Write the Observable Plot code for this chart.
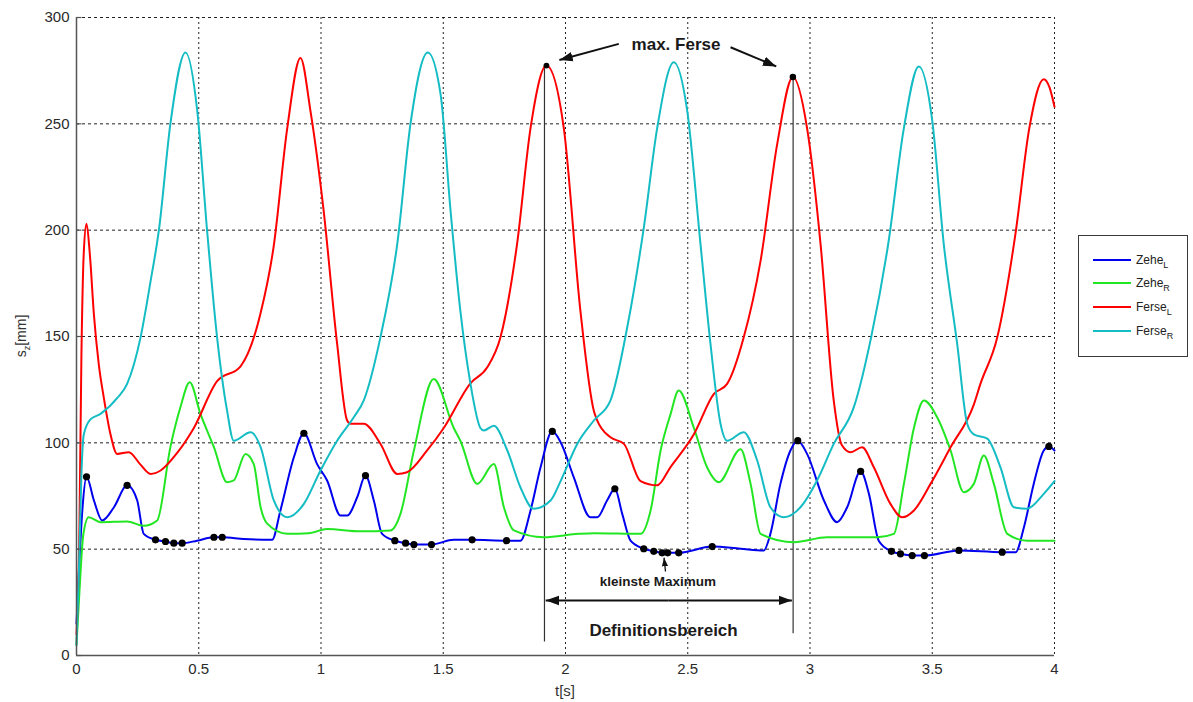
<!DOCTYPE html>
<html>
<head>
<meta charset="utf-8">
<script src="https://cdn.jsdelivr.net/npm/d3@7"></script>
<script src="https://cdn.jsdelivr.net/npm/@observablehq/plot@0.6"></script>
<style>
  body { margin: 0; background: #fff; font-family: "Liberation Sans", Arial, sans-serif; }
  #wrap { position: relative; width: 1193px; height: 702px; }
  #legend { position: absolute; left: 1078px; top: 235px; width: 108px; height: 120px;
            border: 1px solid #3a3a3a; background: #fff; font-size: 12px; color: #222; }
  .row { position: absolute; left: 0; height: 16px; line-height: 16px; }
  .sw { position: absolute; left: 14px; top: 7px; width: 38px; height: 2px; }
  .lab { position: absolute; left: 57px; top: 0; white-space: nowrap; }
  .lab sub { font-size: 9px; vertical-align: -4px; }
</style>
</head>
<body>
<div id="wrap"></div>
<script>
// ---- data ----
const xTicks = [0, 0.5, 1, 1.5, 2, 2.5, 3, 3.5, 4];
const yTicks = [0, 50, 100, 150, 200, 250, 300];
const seriesNames = ["Zehe", "Zehe", "Ferse", "Ferse"];
const seriesSubs = ["L", "R", "L", "R"];
const seriesColors = ["#0000ee", "#22e622", "#ff0000", "#14bcc4"];

// [t (s), s_z (mm)]
const zeheL = [[0,15],[0.01,40],[0.025,70],[0.041,84],[0.071,73],[0.105,63.5],[0.153,69.7],[0.207,80],[0.248,73],[0.275,57.2],[0.323,54.4],[0.364,53.6],[0.398,52.8],[0.432,52.8],[0.493,54],[0.562,55.6],[0.596,55.6],[0.684,54.8],[0.8,54.4],[0.834,68.2],[0.889,93.2],[0.93,104.5],[0.984,90],[1.025,82.3],[1.08,65.8],[1.107,65.8],[1.148,74.4],[1.182,84.6],[1.216,72.9],[1.25,57.2],[1.302,54],[1.346,52.8],[1.38,52.2],[1.452,52.2],[1.543,54.4],[1.618,54.4],[1.759,54],[1.816,54],[1.857,68.2],[1.898,88.5],[1.946,105.4],[1.98,100.3],[2.034,83.8],[2.102,65],[2.13,65],[2.17,72.9],[2.202,78.4],[2.232,66.6],[2.266,54],[2.32,50.2],[2.361,49],[2.395,48.3],[2.418,48.3],[2.463,48.3],[2.6,51.2],[2.716,50.2],[2.811,49.4],[2.838,57.2],[2.879,80.7],[2.92,96.4],[2.95,101],[2.988,94.8],[3.057,72.9],[3.111,62.7],[3.152,69.7],[3.207,86.6],[3.241,76],[3.281,54],[3.333,49],[3.37,47.8],[3.418,47],[3.468,47],[3.609,49.4],[3.786,48.6],[3.841,48.6],[3.875,60.3],[3.915,80.7],[3.956,96.4],[3.977,98.3],[4.0,96.4]];
const zeheR = [[0,5],[0.012,30],[0.028,57],[0.05,65],[0.098,62.7],[0.207,63],[0.275,61],[0.33,63.5],[0.384,98],[0.425,116.7],[0.463,128.5],[0.507,113.6],[0.562,98],[0.616,81.5],[0.643,82.3],[0.691,94.8],[0.725,90],[0.753,69.7],[0.78,62],[0.862,57.2],[0.95,57.5],[1.025,59.5],[1.162,58.4],[1.284,58.8],[1.325,66.6],[1.38,96.4],[1.461,130],[1.543,107],[1.57,101],[1.639,80.7],[1.707,90],[1.748,69.7],[1.789,58.8],[1.911,55.6],[2.054,57.2],[2.116,57.5],[2.307,57.2],[2.348,68.2],[2.389,96.4],[2.43,113.6],[2.463,124.6],[2.525,107],[2.579,88.5],[2.627,81.5],[2.716,97],[2.757,80.7],[2.798,57.2],[2.934,53.3],[3.07,55.6],[3.275,55.6],[3.343,57.2],[3.384,80.7],[3.425,107],[3.466,119.9],[3.52,112],[3.575,96.4],[3.629,76.8],[3.67,80.7],[3.711,94],[3.752,80.7],[3.807,57.2],[3.888,54],[4.0,54]];
const ferseL = [[0,10],[0.012,60],[0.02,140],[0.03,190],[0.041,203],[0.055,188],[0.071,160.6],[0.091,137],[0.112,121],[0.139,104],[0.166,94.8],[0.214,95.6],[0.26,90],[0.303,85.4],[0.344,87],[0.41,95],[0.48,107],[0.575,129],[0.671,136],[0.753,161],[0.806,192],[0.862,248],[0.916,281],[0.957,256],[1.011,209],[1.066,146.5],[1.107,110.5],[1.121,109],[1.175,109],[1.243,99.6],[1.312,85.4],[1.352,86.2],[1.434,96.4],[1.502,107],[1.611,128],[1.68,135.5],[1.734,149.6],[1.802,193.6],[1.857,248],[1.922,277.4],[1.993,248],[2.061,162],[2.116,115],[2.13,110.5],[2.184,102.6],[2.239,99.5],[2.307,82],[2.375,80],[2.429,88.5],[2.525,104],[2.607,123],[2.661,127.7],[2.729,149.6],[2.798,185.7],[2.866,240.6],[2.93,272],[2.988,248],[3.043,193.7],[3.097,120],[3.13,99],[3.166,95.6],[3.213,97.9],[3.261,88.5],[3.329,71.3],[3.377,65],[3.425,68.2],[3.493,80.7],[3.575,97.9],[3.67,118],[3.697,127.7],[3.766,149.6],[3.84,198],[3.897,248],[3.956,271],[3.98,267],[4.0,258]];
const ferseR = [[0,5],[0.01,40],[0.02,85],[0.03,104],[0.057,111],[0.098,113.6],[0.166,121],[0.207,127.7],[0.262,149.6],[0.303,176],[0.337,200],[0.384,250],[0.446,283.6],[0.494,256],[0.534,200],[0.575,149.6],[0.616,115],[0.643,101],[0.712,105],[0.753,98],[0.807,72.9],[0.862,65],[0.93,71.3],[0.998,87],[1.066,101],[1.134,112],[1.175,120],[1.243,149.6],[1.312,193.6],[1.366,250],[1.437,283.6],[1.489,264],[1.53,209],[1.57,162],[1.611,128],[1.652,107],[1.666,105.8],[1.707,108],[1.762,96.4],[1.816,79],[1.87,69],[1.939,72.9],[1.98,82],[2.048,99.5],[2.116,110.5],[2.184,120],[2.252,154],[2.32,201],[2.375,248],[2.443,279],[2.498,256],[2.552,193.6],[2.593,146.5],[2.634,109],[2.661,101],[2.729,105],[2.784,91.7],[2.838,69.7],[2.893,65],[2.961,69.7],[3.029,82.3],[3.097,99.5],[3.18,117],[3.25,149.6],[3.32,193.6],[3.384,248],[3.445,277],[3.5,251.5],[3.547,193.6],[3.602,146.5],[3.643,109],[3.67,104],[3.725,102],[3.779,88.5],[3.834,69.7],[3.888,69],[3.956,76],[4.0,82]];

// detected maxima of Zehe_L (black dots)
const zeheLMaxima = [[0.041,84],[0.207,80],[0.323,54.4],[0.364,53.6],[0.398,52.8],[0.432,52.8],[0.562,55.6],[0.596,55.6],[0.93,104.5],[1.182,84.6],[1.302,54],[1.346,52.8],[1.38,52.2],[1.452,52.2],[1.618,54.4],[1.759,54],[1.946,105.4],[2.202,78.4],[2.32,50.2],[2.361,49],[2.395,48.3],[2.418,48.3],[2.463,48.3],[2.6,51.2],[2.95,101],[3.207,86.6],[3.333,49],[3.37,47.8],[3.418,47],[3.468,47],[3.609,49.4],[3.786,48.6],[3.977,98.3]];
const ferseMaxima = [[1.922,277.4],[2.93,272]];
const bereichLines = [[1.914,277,6.3],[2.931,272,10.2]];
const bereichY = 25.9;
const annotations = [
  {text: "max. Ferse", t: 2.452, y: 287.5, size: 17},
  {text: "kleinste Maximum", t: 2.378, y: 34.5, size: 13.5},
  {text: "Definitionsbereich", t: 2.401, y: 11.8, size: 17}
];
const maxArrows = [[2.218,287.6,1.975,280],[2.675,286,2.862,277]];
const smallArrow = [[2.409,39.5,2.403,46]];

// ---- build ----
const seriesData = [zeheL, zeheR, ferseL, ferseR];
const ax = d => d[0], ay = d => d[1];

const chart = Plot.plot({
  width: 1193, height: 702,
  marginLeft: 76, marginRight: 139, marginTop: 17, marginBottom: 47,
  style: {fontFamily: '"Liberation Sans", Arial, sans-serif', fontSize: "15px", color: "#2a2a2a", background: "#fff"},
  x: {type: "linear", domain: [0, 4]},
  y: {type: "linear", domain: [0, 300]},
  marks: [
    Plot.ruleY(yTicks.filter(v => v > 0), {stroke: "#222", strokeWidth: 1, strokeDasharray: "3,3"}),
    Plot.ruleX(xTicks.filter(v => v > 0), {stroke: "#222", strokeWidth: 1, strokeDasharray: "2,3"}),
    Plot.ruleX(bereichLines, {x: d => d[0], y1: d => d[1], y2: d => d[2], stroke: "#333", strokeWidth: 1.2}),
    ...seriesData.map((s, i) => Plot.line(s, {x: ax, y: ay, stroke: seriesColors[i], strokeWidth: 2, curve: "monotone-x"})),
    Plot.dot(zeheLMaxima, {x: ax, y: ay, r: 3.6, fill: "#000"}),
    Plot.dot(ferseMaxima, {x: ax, y: ay, r: [4, 5], fill: "#000"}),
    Plot.ruleX([0], {stroke: "#555", strokeWidth: 1.5}),
    Plot.ruleY([0], {stroke: "#555", strokeWidth: 1.5}),
    Plot.ruleY(yTicks, {x1: 0, x2: 0.022, stroke: "#555", strokeWidth: 1.2}),
    Plot.link(maxArrows, {x1: d => d[0], y1: d => d[1], x2: d => d[2], y2: d => d[3], stroke: "#111", strokeWidth: 2, markerEnd: "arrow"}),
    Plot.link([[ (bereichLines[0][0]+bereichLines[1][0])/2, bereichLines[0][0]+0.005 ], [ (bereichLines[0][0]+bereichLines[1][0])/2, bereichLines[1][0]-0.005 ]],
      {x1: d => d[0], x2: d => d[1], y1: () => bereichY, y2: () => bereichY, stroke: "#111", strokeWidth: 2, markerEnd: "arrow"}),
    Plot.link(smallArrow, {x1: d => d[0], y1: d => d[1], x2: d => d[2], y2: d => d[3], stroke: "#111", strokeWidth: 1.3, markerEnd: "arrow"}),
    Plot.text(annotations, {x: "t", y: "y", text: "text", fontSize: d => d.size, fontWeight: "bold", fill: "#1a1a1a"}),
    Plot.axisX(xTicks, {tickSize: 0, tickPadding: 8, tickFormat: d => String(d), label: null, fill: "#2a2a2a"}),
    Plot.axisY(yTicks, {tickSize: 0, tickPadding: 7, label: null, fill: "#2a2a2a"})
  ]
});

// filled triangular arrow heads
d3.select(chart).selectAll("marker")
  .attr("viewBox", "-10 -5 10 10")
  .attr("fill", "#111").attr("stroke", "none")
  .selectAll("path").attr("d", "M-10,-3.6L0,0L-10,3.6Z");

// axis titles
const svg = d3.select(chart);
const yl = svg.append("text")
  .attr("transform", "translate(26,336) rotate(-90)")
  .attr("text-anchor", "middle").attr("font-size", 14).attr("fill", "#333");
yl.append("tspan").text("s");
yl.append("tspan").attr("font-size", 9).attr("dy", 4).text("z");
yl.append("tspan").attr("dy", -4).text("[mm]");
svg.append("text").attr("x", 565).attr("y", 696).attr("text-anchor", "middle")
  .attr("font-size", 15).attr("fill", "#333").text("t[s]");

const wrap = document.getElementById("wrap");
wrap.appendChild(chart);

// legend
const legend = document.createElement("div");
legend.id = "legend";
const rowTops = [16, 39, 63, 87];
seriesNames.forEach((n, i) => {
  const row = document.createElement("div");
  row.className = "row";
  row.style.top = rowTops[i] + "px";
  row.style.width = "100%";
  const sw = document.createElement("span");
  sw.className = "sw"; sw.style.background = seriesColors[i];
  const lab = document.createElement("span");
  lab.className = "lab";
  lab.innerHTML = n + "<sub>" + seriesSubs[i] + "</sub>";
  row.appendChild(sw); row.appendChild(lab);
  legend.appendChild(row);
});
wrap.appendChild(legend);
</script>
</body>
</html>
